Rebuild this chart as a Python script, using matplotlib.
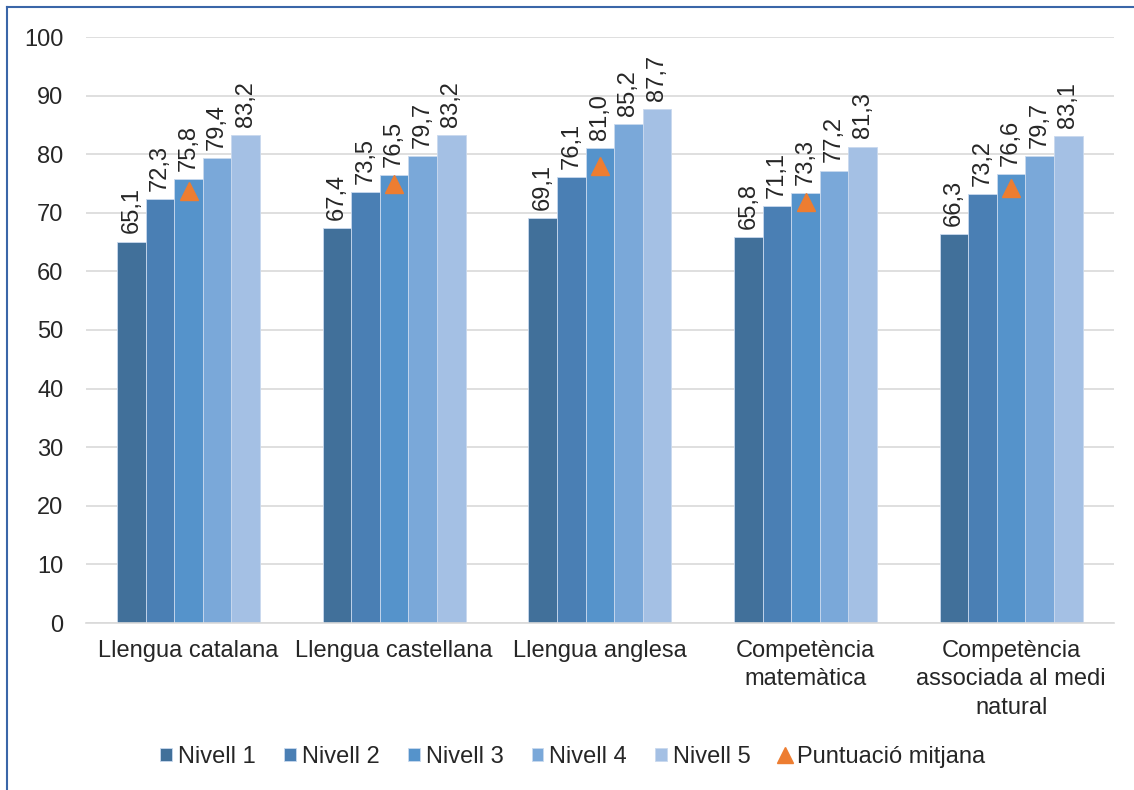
import matplotlib
matplotlib.use("Agg")
import matplotlib.pyplot as plt
import numpy as np
from matplotlib.lines import Line2D

plt.rcParams['font.family'] = ['Liberation Sans', 'DejaVu Sans']

categories = ["Llengua catalana", "Llengua castellana", "Llengua anglesa",
              "Competència\nmatemàtica", "Competència\nassociada al medi\nnatural"]
series_names = ["Nivell 1", "Nivell 2", "Nivell 3", "Nivell 4", "Nivell 5"]
nivell1 = [65.1, 67.4, 69.1, 65.8, 66.3]
nivell2 = [72.3, 73.5, 76.1, 71.1, 73.2]
nivell3 = [75.8, 76.5, 81.0, 73.3, 76.6]
nivell4 = [79.4, 79.7, 85.2, 77.2, 79.7]
nivell5 = [83.2, 83.2, 87.7, 81.3, 83.1]
mitjana = [73.7, 74.9, 78.0, 71.8, 74.2]
yticks = [0, 10, 20, 30, 40, 50, 60, 70, 80, 90, 100]

colors = ["#41709A", "#4A7FB4", "#5593CB", "#7AA8D9", "#A4C0E4"]
series = [nivell1, nivell2, nivell3, nivell4, nivell5]
FS = 17

fig = plt.figure(figsize=(11.34, 7.9), dpi=100)
ax = fig.add_axes([85.7/1134, 1 - 623/790, (1114 - 85.7)/1134, (623 - 37)/790])

x = np.arange(len(categories))
w = 0.139
bar_handles = []
for i, (vals, c, name) in enumerate(zip(series, colors, series_names)):
    pos = x + (i - 2) * w
    b = ax.bar(pos, vals, width=w, color=c, edgecolor="#C9D9EE", linewidth=0.6,
               label=name, zorder=2)
    bar_handles.append(b)
    for p, v in zip(pos, vals):
        ax.text(p, v + 1.4, f"{v:.1f}".replace(".", ","), rotation=90,
                ha="center", va="bottom", fontsize=FS, color="#262626")

tri, = ax.plot(x, mitjana, linestyle="none", marker="^", markersize=13,
               color="#ED7D31", zorder=3, label="Puntuació mitjana")

ax.set_xlim(-0.5, len(categories) - 0.5)
ax.set_ylim(0, 100)
ax.set_yticks(yticks)
ax.set_yticklabels([str(t) for t in yticks], fontsize=FS, color="#262626")
ax.set_xticks(x)
ax.set_xticklabels(categories, fontsize=FS, color="#262626", linespacing=1.4)
ax.tick_params(axis="x", length=0, pad=12)
ax.tick_params(axis="y", length=0, pad=16)
ax.grid(axis="y", color="#D9D9D9", linewidth=1.2, zorder=0)
ax.set_axisbelow(True)
for s in ["top", "right", "left"]:
    ax.spines[s].set_visible(False)
ax.spines["bottom"].set_color("#D9D9D9")
ax.spines["bottom"].set_linewidth(1.2)

leg_tri = Line2D([], [], linestyle="none", marker="^", markersize=11, color="#ED7D31")
handles = bar_handles + [leg_tri]
labels = series_names + ["Puntuació mitjana"]
leg = fig.legend(handles, labels, loc="center", bbox_to_anchor=(0.505, 1 - 757/790),
                 ncol=6, frameon=False, fontsize=FS, handlelength=0.5,
                 handleheight=0.5, handletextpad=0.25, columnspacing=1.2)
for t in leg.get_texts():
    t.set_color("#262626")

# figure border (left and top visible)
fig.add_artist(Line2D([7/1134, 7/1134], [0, 1 - 7/790], transform=fig.transFigure,
                      color="#3A66A8", linewidth=1.5))
fig.add_artist(Line2D([7/1134, 1], [1 - 7/790, 1 - 7/790], transform=fig.transFigure,
                      color="#3A66A8", linewidth=1.5))

fig.savefig("out.png", dpi=100)
